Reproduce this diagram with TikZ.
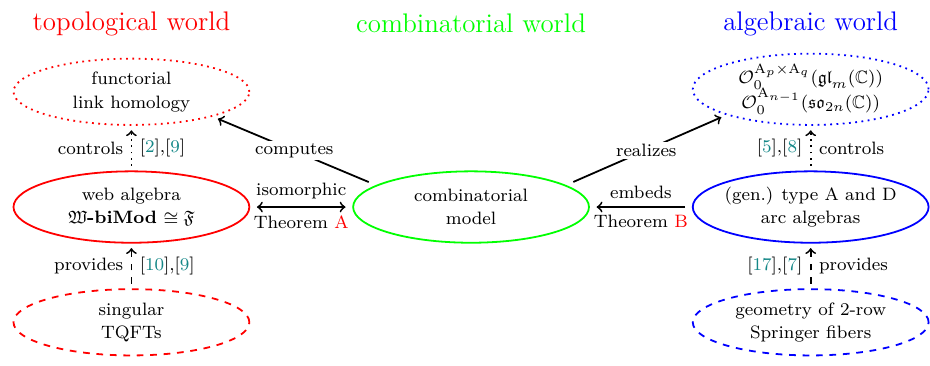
\documentclass[tikz,border=0pt]{standalone}
\usepackage{amsmath}
\usepackage{amssymb}
\usetikzlibrary{shapes.geometric,positioning,calc}

\definecolor{citeteal}{RGB}{20,135,135}
\newcommand{\cit}[1]{[\textcolor{citeteal}{#1}]}

\begin{document}
\begin{tikzpicture}[
    node distance=0.7cm,
    world/.style={ellipse, thick, minimum width=3.7cm, minimum height=1.12cm,
                  inner xsep=-4pt, inner ysep=0pt, align=center,
                  font=\fontsize{8}{10.5}\selectfont},
    outer/.style={world, minimum height=1.04cm},
    ttl/.style={font=\large},
    arr/.style={->, thick, shorten <=2pt, shorten >=2pt},
    lbl/.style={font=\footnotesize},
    onl/.style={font=\footnotesize, fill=white, inner sep=1pt}
  ]
    \useasboundingbox (-7.39,-2.479) rectangle (7.20,3.248);

    \node[world, draw=green] (model) {combinatorial\\model};
    \node[world, draw=red, left=1.6cm of model] (web)
         {web algebra\\$\mathfrak{W}$\textbf{-biMod} $\cong \mathfrak{F}$};
    \node[world, draw=blue, right=1.6cm of model] (arc)
         {(gen.) type A and D\\arc algebras};

    \node[outer, draw=red, dotted, above=of web] (flh) {functorial\\link homology};
    \node[outer, draw=red, dashed, below=of web] (sing) {singular\\TQFTs};
    \node[outer, draw=blue, dotted, above=of arc] (cato)
         {$\mathcal{O}_0^{\mathrm{A}_p\times\mathrm{A}_q}(\mathfrak{gl}_m(\mathbb{C}))$\\[-1.4pt]
          $\mathcal{O}_0^{\mathrm{A}_{n-1}}(\mathfrak{so}_{2n}(\mathbb{C}))$};
    \node[outer, draw=blue, dashed, below=of arc] (spr)
         {geometry of 2-row\\Springer fibers};

    %--- titles ---
    \node[ttl, red, above=0.22cm of flh] (topo) {topological world};
    \node[ttl, green] (comb) at (model |- topo) {combinatorial world};
    \node[ttl, blue] (alg) at (arc |- topo) {algebraic world};

    %--- connectors ---
    \draw[arr, shorten <=3.5pt, shorten >=2.5pt] (model.167) -- node[onl]{computes} (flh.343);
    \draw[arr, shorten <=3.5pt, shorten >=2.5pt] (model.13) -- node[onl]{realizes} (cato.197);
    \draw[arr, <->, shorten <=3pt, shorten >=3pt] (web) --
         node[lbl, above]{isomorphic} node[lbl, below]{Theorem \textcolor{red}{A}} (model);
    \draw[arr, shorten <=3pt, shorten >=3pt] (arc) --
         node[lbl, above]{embeds} node[lbl, below]{Theorem \textcolor{red}{B}} (model);

    \draw[arr, dotted] (web) -- node[lbl, left]{controls} node[lbl, right]{\cit{2},\cit{9}} (flh);
    \draw[arr, dashed] (sing) -- node[lbl, left]{provides} node[lbl, right]{\cit{10},\cit{9}} (web);
    \draw[arr, dotted] (arc) -- node[lbl, left]{\cit{5},\cit{8}} node[lbl, right]{controls} (cato);
    \draw[arr, dashed] (spr) -- node[lbl, left]{\cit{17},\cit{7}} node[lbl, right]{provides} (arc);
\end{tikzpicture}
\end{document}
